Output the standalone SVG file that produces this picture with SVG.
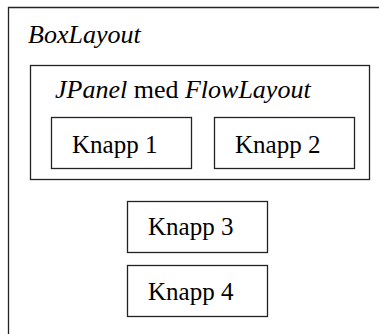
<svg xmlns="http://www.w3.org/2000/svg" width="379" height="334" viewBox="0 0 379 334">
<rect x="0" y="0" width="379" height="334" fill="#fff"/>
<g id="boxlayout">
<path d="M8.5 340 V7.5 H385" fill="none" stroke="#222" stroke-width="1.3"/>
<text x="28" y="43" font-family="Liberation Serif" font-size="26" font-style="italic">BoxLayout</text>
</g>
<g id="jpanel">
<rect x="30.5" y="65.5" width="339" height="114" fill="none" stroke="#222" stroke-width="1.3"/>
<text x="55" y="98" font-family="Liberation Serif" font-size="26"><tspan font-style="italic">JPanel</tspan> med <tspan font-style="italic">FlowLayout</tspan></text>
</g>
<g id="knapp1">
<rect x="51.5" y="117.5" width="140" height="51" fill="none" stroke="#222" stroke-width="1.3"/>
<text x="72" y="153" font-family="Liberation Serif" font-size="25">Knapp 1</text>
</g>
<g id="knapp2">
<rect x="214.5" y="117.5" width="140" height="51" fill="none" stroke="#222" stroke-width="1.3"/>
<text x="235" y="153" font-family="Liberation Serif" font-size="25">Knapp 2</text>
</g>
<g id="knapp3">
<rect x="127.5" y="201.5" width="140" height="51" fill="none" stroke="#222" stroke-width="1.3"/>
<text x="148" y="235" font-family="Liberation Serif" font-size="25">Knapp 3</text>
</g>
<g id="knapp4">
<rect x="127.5" y="265.5" width="140" height="51" fill="none" stroke="#222" stroke-width="1.3"/>
<text x="148" y="300" font-family="Liberation Serif" font-size="25">Knapp 4</text>
</g>
<g id="connectors"></g>
</svg>
